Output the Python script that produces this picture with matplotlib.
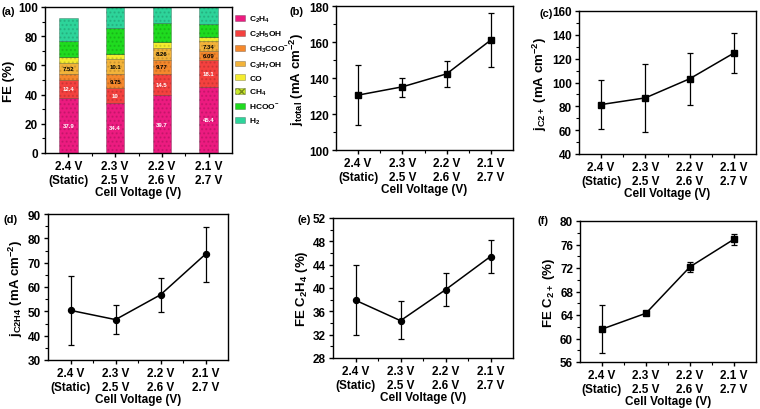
import matplotlib
matplotlib.use('Agg')
import matplotlib.pyplot as plt
import matplotlib.patches as mpatches
from matplotlib.ticker import MultipleLocator, FixedLocator
import numpy as np

plt.rcParams['font.family'] = ['Liberation Sans', 'DejaVu Sans']
plt.rcParams['font.weight'] = 'bold'
plt.rcParams['axes.labelweight'] = 'bold'
plt.rcParams['mathtext.fontset'] = 'custom'
plt.rcParams['mathtext.rm'] = 'Liberation Sans:bold'
plt.rcParams['mathtext.it'] = 'Liberation Sans:bold'
plt.rcParams['mathtext.bf'] = 'Liberation Sans:bold'
plt.rcParams['mathtext.default'] = 'rm'

# ---- data ----
voltages = ['2.4 V\n(Static)', '2.3 V\n2.5 V', '2.2 V\n2.6 V', '2.1 V\n2.7 V']

products = ['C$_2$H$_4$', 'C$_2$H$_5$OH', 'CH$_3$COO$^{-}$', 'C$_3$H$_7$OH',
            'CO', 'CH$_4$', 'HCOO$^{-}$', 'H$_2$']
fe_c2h4 = [37.9, 34.4, 39.7, 45.4]
fe_c2h5oh = [12.4, 10.0, 14.5, 18.1]
fe_ch3coo = [3.8, 9.75, 9.77, 6.09]
fe_c3h7oh = [7.52, 10.1, 8.26, 7.34]
fe_co = [4.1, 3.6, 3.5, 2.5]
fe_ch4 = [0.3, 0.3, 0.3, 0.3]
fe_hcoo = [10.8, 17.2, 12.8, 8.4]
fe_h2 = [15.9, 14.7, 11.2, 11.9]
bar_labels = [['37.9', '34.4', '39.7', '45.4'],
              ['12.4', '10', '14.5', '18.1'],
              ['', '9.75', '9.77', '6.09'],
              ['7.52', '10.1', '8.26', '7.34']]
colors = ['#EC1B80', '#F4413F', '#F5882C', '#F2B33A',
          '#F4EC2E', '#C8E82A', '#1FDB1F', '#2DD49A']

j_total = [130.5, 135.1, 142.3, 161.1]
j_total_lo = [113.8, 129.7, 134.9, 146.2]
j_total_hi = [147.3, 140.1, 149.5, 176.1]

j_c2 = [81.5, 87.1, 103.1, 124.7]
j_c2_lo = [61.2, 58.2, 81.5, 108.1]
j_c2_hi = [102.0, 115.4, 125.0, 141.5]

j_c2h4 = [50.4, 46.6, 56.8, 73.5]
j_c2h4_lo = [36.3, 40.5, 49.8, 62.1]
j_c2h4_hi = [64.6, 52.6, 63.5, 84.8]

fe_c2h4_lo = [32.0, 31.3, 37.0, 42.6]
fe_c2h4_hi = [44.0, 37.7, 42.6, 48.3]

fe_c2 = [61.6, 64.3, 72.2, 76.9]
fe_c2_lo = [57.5, 64.1, 71.4, 75.9]
fe_c2_hi = [65.7, 64.5, 73.1, 77.8]

W, H = 760, 410
fig = plt.figure(figsize=(7.6, 4.1), dpi=100)
FS = 8.5


def add_ax(l, r, t, b):
    return fig.add_axes([l / W, (H - b) / H, (r - l) / W, (b - t) / H])


def style(ax):
    x = np.arange(len(voltages))
    ax.set_xlim(-0.5, 3.5)
    ax.set_xticks(x)
    ax.set_xticklabels(voltages, fontsize=FS, linespacing=1.25)
    ax.xaxis.set_minor_locator(FixedLocator([0.5, 1.5, 2.5]))
    ax.set_xlabel('Cell Voltage (V)', fontsize=FS, labelpad=0)
    ax.tick_params(direction='out', width=1, length=3, labelsize=FS, pad=2)
    ax.tick_params(which='minor', direction='out', width=0.8, length=2)
    ax.tick_params(axis='x', which='both', top=False)
    for s in ax.spines.values():
        s.set_linewidth(1)


# ---- (a) stacked bars ----
ax = add_ax(45, 232, 8, 154)
x = np.arange(len(voltages))
series = [fe_c2h4, fe_c2h5oh, fe_ch3coo, fe_c3h7oh, fe_co, fe_ch4, fe_hcoo, fe_h2]
bottom = np.zeros(len(x))
handles = []
for i, vals in enumerate(series):
    vals = np.array(vals)
    ax.bar(x, vals, 0.4, bottom=bottom, color=colors[i], edgecolor='#00000066', linewidth=0.4)
    hatch = 'xxxx' if i == 5 else '....'
    ax.bar(x, vals, 0.4, bottom=bottom, color='none', edgecolor='#00000022', linewidth=0, hatch=hatch)
    if i < 4:
        for k in range(len(x)):
            lab = bar_labels[i][k]
            if lab:
                ax.text(x[k], bottom[k] + vals[k] / 2, lab, ha='center', va='center',
                        fontsize=4.3, color='white' if i < 2 else 'black')
    handles.append(mpatches.Patch(facecolor=colors[i], edgecolor='#00000066', linewidth=0.4,
                                  hatch='xxxx' if i == 5 else None, label=products[i]))
    bottom = bottom + vals
ax.set_ylim(0, 100)
ax.yaxis.set_major_locator(MultipleLocator(20))
ax.yaxis.set_minor_locator(MultipleLocator(10))
ax.set_ylabel('FE (%)', fontsize=9.5, labelpad=2)
style(ax)
fig.legend(handles=handles, loc='upper left', bbox_to_anchor=(235 / W, 1 - 15 / H),
           frameon=False, fontsize=6, handlelength=1.2, handleheight=0.7,
           handletextpad=0.5, labelspacing=0.55, borderaxespad=0, borderpad=0)
fig.text(2 / W, 1 - 12 / H, '(a)', fontsize=8, va='center', ha='left')


def line_panel(box, y, lo, hi, marker, ylim, major, minor, ylabel, tag, tagpos):
    ax = add_ax(*box)
    xx = np.arange(len(y))
    yerr = [np.array(y) - np.array(lo), np.array(hi) - np.array(y)]
    ax.errorbar(xx, y, yerr=yerr, color='black', marker=marker, markersize=4.3,
                linewidth=1.1, elinewidth=0.9, capsize=2, capthick=0.9)
    ax.set_ylim(*ylim)
    ax.yaxis.set_major_locator(MultipleLocator(major))
    ax.yaxis.set_minor_locator(MultipleLocator(minor))
    ax.set_ylabel(ylabel, fontsize=9.5, labelpad=2)
    style(ax)
    fig.text(tagpos[0] / W, 1 - tagpos[1] / H, tag, fontsize=8, va='center', ha='left')
    return ax


line_panel((336, 513, 7, 151), j_total, j_total_lo, j_total_hi, 's', (100, 180), 20, 10,
           'j$_{total}$ (mA cm$^{-2}$)', '(b)', (290, 12))
line_panel((579, 756, 12, 155), j_c2, j_c2_lo, j_c2_hi, 's', (40, 160), 20, 10,
           'j$_{C2+}$ (mA cm$^{-2}$)', '(c)', (539, 14))
line_panel((48, 228, 215, 361), j_c2h4, j_c2h4_lo, j_c2h4_hi, 'o', (30, 90), 10, 5,
           'j$_{C2H4}$ (mA cm$^{-2}$)', '(d)', (3, 220))
line_panel((333, 513, 219, 359), fe_c2h4, fe_c2h4_lo, fe_c2h4_hi, 'o', (28, 52), 4, 2,
           'FE C$_2$H$_4$ (%)', '(e)', (298, 220))
line_panel((580, 756, 222, 363), fe_c2, fe_c2_lo, fe_c2_hi, 's', (56, 80), 4, 2,
           'FE C$_{2+}$ (%)', '(f)', (537, 221))

fig.savefig('out.png', dpi=100)
